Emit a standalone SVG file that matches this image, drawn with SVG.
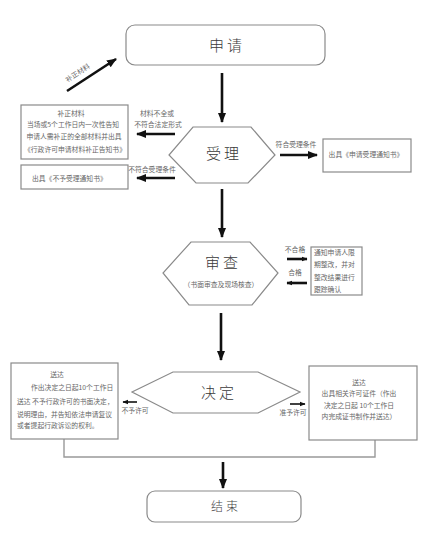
<svg xmlns="http://www.w3.org/2000/svg" width="436" height="537" viewBox="0 0 436 537">
<style>
.bg{fill:#fff}
.node{fill:#fff;stroke:#8a8a8a;stroke-width:1.2}
.box{fill:#fff;stroke:#8a8a8a;stroke-width:1.2}
.t{font-family:"Noto Sans CJK SC","Noto Sans",sans-serif;fill:#666}
.big{font-size:15px;fill:#3a3a3a;letter-spacing:3px;font-weight:300}
.mid{font-size:12px;fill:#444;letter-spacing:3px;font-weight:300}
.s{font-size:6.8px}
.arr{stroke:#111;stroke-width:2.6;fill:none}
.arrs{stroke:#111;stroke-width:1.6;fill:none}
.ln{stroke:#999;stroke-width:1.4;fill:none}
</style>
<defs>
<marker id="ah" markerUnits="userSpaceOnUse" markerWidth="10" markerHeight="10" viewBox="0 0 10 10" refX="9" refY="5" orient="auto">
<path d="M0,1 L10,5 L0,9 Z" fill="#111"/>
</marker>
<marker id="ahs" markerUnits="userSpaceOnUse" markerWidth="6" markerHeight="6" viewBox="0 0 10 10" refX="9" refY="5" orient="auto">
<path d="M0,1 L10,5 L0,9 Z" fill="#111"/>
</marker>
</defs>
<rect class="bg" x="0" y="0" width="436" height="537"/>

<g id="connectors">
<line class="arr" x1="222" y1="73" x2="222" y2="122" marker-end="url(#ah)"/>
<line class="arr" x1="67" y1="91" x2="116" y2="59" marker-end="url(#ah)"/>
<line class="arr" x1="175" y1="134" x2="137" y2="134" marker-end="url(#ah)"/>
<line class="arr" x1="175" y1="178" x2="137" y2="178" marker-end="url(#ah)"/>
<line class="arr" x1="280" y1="155" x2="317" y2="155" marker-end="url(#ah)"/>
<line class="arr" x1="222" y1="189" x2="222" y2="237" marker-end="url(#ah)"/>
<line class="arr" x1="287" y1="259" x2="307" y2="259" marker-end="url(#ahs)"/>
<line class="arr" x1="307" y1="283" x2="287" y2="283" marker-end="url(#ahs)"/>
<line class="arr" x1="221" y1="313" x2="221" y2="360" marker-end="url(#ah)"/>
<line class="arrs" x1="137" y1="402" x2="123" y2="402" marker-end="url(#ahs)"/>
<line class="arrs" x1="290" y1="404" x2="305" y2="404" marker-end="url(#ahs)"/>
<polyline class="ln" points="64,439 64,457 375,457 375,440"/>
<line class="arr" x1="223" y1="462" x2="223" y2="488" marker-end="url(#ah)"/>
<text class="t s" transform="translate(79,75) rotate(-33)" text-anchor="middle">补正材料</text>
<text class="t s" x="157" y="116" text-anchor="middle">材料不全或</text>
<text class="t s" x="158" y="127" text-anchor="middle">不符合法定形式</text>
<text class="t s" x="152" y="172" text-anchor="middle">不符合受理条件</text>
<text class="t s" x="296" y="147" text-anchor="middle">符合受理条件</text>
<text class="t s" x="295" y="252" text-anchor="middle">不合格</text>
<text class="t s" x="295" y="275" text-anchor="middle">合格</text>
<text class="t s" x="135" y="413" text-anchor="middle">不予许可</text>
<text class="t s" x="293" y="415" text-anchor="middle">准予许可</text>
</g>

<g id="apply">
<rect class="node" x="126" y="25" width="199" height="40" rx="9"/>
<text class="t big" x="227" y="51" text-anchor="middle">申请</text>
</g>

<g id="accept">
<polygon class="node" points="193,127 251,127 275,155 248,183 196,183 169,155"/>
<text class="t big" x="224" y="159" text-anchor="middle">受理</text>
</g>

<g id="supplement">
<rect class="box" x="21" y="105" width="107" height="54"/>
<text class="t s" x="71" y="116" text-anchor="middle">补正材料</text>
<text class="t s" x="73" y="127" text-anchor="middle">当场或5个工作日内一次性告知</text>
<text class="t s" x="74" y="139" text-anchor="middle">申请人需补正的全部材料并出具</text>
<text class="t s" x="75" y="152" text-anchor="middle">《行政许可申请材料补正告知书》</text>
</g>

<g id="reject">
<rect class="box" x="21" y="165" width="107" height="24"/>
<text class="t s" x="32" y="181">出具《不予受理通知书》</text>
</g>

<g id="accepted">
<rect class="box" x="323" y="139" width="88" height="33"/>
<text class="t s" x="366" y="157" text-anchor="middle">出具《申请受理通知书》</text>
</g>

<g id="review">
<polygon class="node" points="191,242 250,242 278,273 252,305 189,305 163,273"/>
<text class="t big" x="223" y="268" text-anchor="middle">审查</text>
<text class="t s" x="221" y="287" text-anchor="middle">（书面审查及现场核查）</text>
</g>

<g id="rectify">
<rect class="box" x="311" y="247" width="51" height="48"/>
<text class="t s" x="314" y="255">通知申请人限</text>
<text class="t s" x="314" y="267">期整改，并对</text>
<text class="t s" x="314" y="280">整改结果进行</text>
<text class="t s" x="314" y="292">跟踪确认</text>
</g>

<g id="decide">
<polygon class="node" points="173,372 258,372 300,392 258,413 173,413 132,392"/>
<text class="t big" x="219" y="398" text-anchor="middle">决定</text>
</g>

<g id="deny">
<rect class="box" x="11" y="363" width="107" height="76"/>
<text class="t s" x="57" y="377" text-anchor="middle">送达</text>
<text class="t s" x="31" y="390">作出决定之日起10个工作日</text>
<text class="t s" x="17" y="404">送达 不予行政许可的书面决定，</text>
<text class="t s" x="17" y="417">说明理由，并告知依法申请复议</text>
<text class="t s" x="17" y="428">或者提起行政诉讼的权利。</text>
</g>

<g id="grant">
<rect class="box" x="309" y="366" width="108" height="74"/>
<text class="t s" x="359" y="385" text-anchor="middle">送达</text>
<text class="t s" x="359" y="396" text-anchor="middle">出具相关许可证件（作出</text>
<text class="t s" x="359" y="408" text-anchor="middle">决定之日起 10个工作日</text>
<text class="t s" x="359" y="419" text-anchor="middle">内完成证书制作并送达）</text>
</g>

<g id="end">
<rect class="node" x="147" y="491" width="154" height="31" rx="8"/>
<text class="t mid" x="226" y="511" text-anchor="middle">结束</text>
</g>
</svg>
